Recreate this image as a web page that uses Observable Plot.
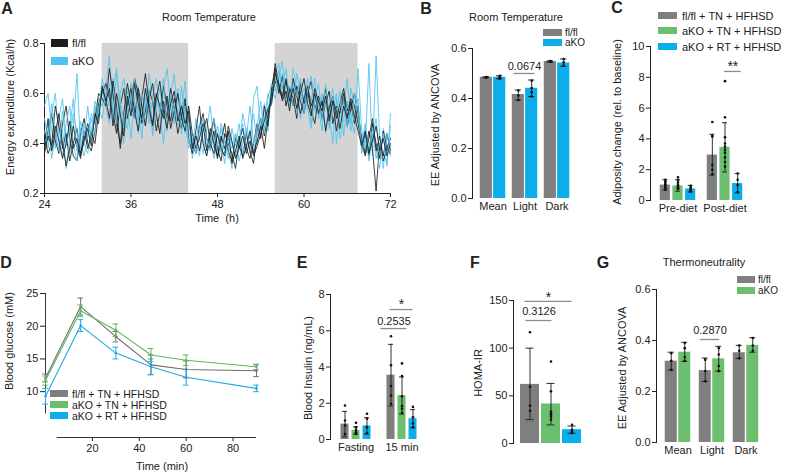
<!DOCTYPE html>
<html><head><meta charset="utf-8">
<script src="https://cdn.jsdelivr.net/npm/d3@7"></script>
<script src="https://cdn.jsdelivr.net/npm/@observablehq/plot@0.6"></script>
<style>
body{margin:0;background:#fff;}
#fig{position:relative;width:789px;height:475px;overflow:hidden;background:#fff;font-family:"Liberation Sans",Arial,sans-serif;color:#222;}
.abs{position:absolute;white-space:pre;line-height:1;}
.sw{position:absolute;}
</style></head><body><div id="fig"></div>
<script>
// ---------- DATA ----------
// Panel A: energy expenditure traces (Kcal/h), sampled every 0.5 h from 24 h to 72 h
const aDark = [{start: 32, end: 44}, {start: 56, end: 67.5}];
const aFl1 = [0.38,0.45,0.52,0.41,0.36,0.48,0.55,0.42,0.35,0.33,0.44,0.50,0.40,0.37, 0.45,0.56,0.60, 0.64,0.58,0.52,0.44,0.55,0.62,0.50,0.58,0.66,0.60,0.48,0.53,0.61,0.57,0.45,0.52,0.63,0.55,0.49,0.58,0.52,0.46,0.56,0.50, 0.40,0.36,0.47,0.52,0.42,0.38,0.45,0.34,0.41,0.48,0.37,0.33,0.42,0.39,0.35,0.44,0.37,0.32,0.45,0.50,0.43,0.52, 0.58,0.65, 0.62,0.58,0.66,0.60,0.55,0.63,0.57,0.52,0.60,0.65,0.54,0.58,0.50,0.56,0.61,0.48,0.55,0.52,0.58,0.47,0.54,0.60,0.52, 0.42,0.36,0.45,0.38,0.21,0.40,0.35,0.44,0.37];
const aFl2 = [0.42,0.36,0.40,0.55,0.47,0.38,0.44,0.33,0.40,0.46,0.36,0.42,0.48,0.43, 0.50,0.60,0.58, 0.55,0.70,0.60,0.48,0.40,0.52,0.64,0.56,0.50,0.62,0.55,0.47,0.58,0.64,0.52,0.44,0.57,0.50,0.62,0.54,0.44,0.51,0.58,0.42, 0.36,0.45,0.55,0.40,0.35,0.43,0.50,0.38,0.33,0.44,0.40,0.36,0.30,0.41,0.46,0.38,0.34,0.40,0.48,0.42,0.55,0.47, 0.62,0.70, 0.60,0.67,0.55,0.62,0.58,0.50,0.64,0.56,0.61,0.53,0.48,0.59,0.55,0.62,0.50,0.57,0.45,0.53,0.60,0.51,0.56,0.48,0.55, 0.38,0.44,0.35,0.48,0.40,0.34,0.45,0.38,0.42];
const aFl3 = [0.40,0.50,0.37,0.44,0.52,0.40,0.31,0.38,0.47,0.39,0.34,0.45,0.38,0.44, 0.40,0.52,0.62, 0.58,0.50,0.65,0.55,0.38,0.48,0.56,0.62,0.53,0.45,0.58,0.68,0.56,0.48,0.60,0.55,0.50,0.59,0.46,0.53,0.60,0.50,0.45,0.55, 0.44,0.38,0.42,0.48,0.37,0.46,0.40,0.35,0.43,0.38,0.45,0.32,0.37,0.43,0.34,0.39,0.45,0.36,0.41,0.47,0.38,0.50, 0.60,0.72, 0.64,0.57,0.61,0.53,0.66,0.59,0.52,0.58,0.63,0.55,0.60,0.52,0.57,0.45,0.54,0.59,0.50,0.56,0.62,0.53,0.58,0.55,0.48, 0.40,0.35,0.42,0.50,0.37,0.43,0.33,0.38,0.36];
const aFl4 = [0.36,0.43,0.39,0.47,0.41,0.34,0.40,0.49,0.38,0.42,0.35,0.41,0.46,0.39, 0.52,0.48,0.63, 0.57,0.62,0.47,0.60,0.52,0.43,0.59,0.51,0.64,0.56,0.50,0.62,0.54,0.47,0.58,0.65,0.53,0.46,0.56,0.61,0.49,0.55,0.48,0.53, 0.38,0.43,0.37,0.45,0.50,0.40,0.36,0.44,0.38,0.35,0.47,0.41,0.34,0.38,0.43,0.36,0.41,0.35,0.39,0.44,0.49,0.54, 0.56,0.68, 0.63,0.59,0.65,0.57,0.62,0.54,0.60,0.66,0.56,0.51,0.62,0.57,0.53,0.59,0.49,0.57,0.53,0.46,0.55,0.50,0.57,0.51,0.45, 0.39,0.45,0.36,0.41,0.47,0.37,0.42,0.35,0.40];
const aKo1 = [0.55,0.60,0.45,0.38,0.50,0.58,0.42,0.36,0.47,0.68,0.40,0.35,0.44,0.52, 0.48,0.58,0.55, 0.62,0.75,0.52,0.45,0.60,0.66,0.55,0.42,0.58,0.63,0.52,0.47,0.68,0.58,0.50,0.45,0.62,0.70,0.55,0.48,0.60,0.52,0.65,0.45, 0.38,0.50,0.42,0.36,0.46,0.55,0.40,0.34,0.48,0.42,0.37,0.30,0.44,0.38,0.52,0.45,0.36,0.58,0.63,0.44,0.50,0.60, 0.55,0.68, 0.72,0.60,0.65,0.55,0.70,0.62,0.50,0.58,0.66,0.48,0.60,0.55,0.45,0.62,0.52,0.40,0.58,0.48,0.55,0.66,0.50,0.44,0.70, 0.45,0.38,0.72,0.35,0.75,0.42,0.36,0.32,0.52];
const aKo2 = [0.45,0.38,0.52,0.60,0.42,0.35,0.48,0.55,0.40,0.33,0.46,0.40,0.36,0.45, 0.55,0.50,0.62, 0.55,0.48,0.62,0.70,0.50,0.40,0.55,0.64,0.57,0.44,0.52,0.62,0.48,0.58,0.66,0.52,0.40,0.55,0.60,0.68,0.50,0.56,0.44,0.52, 0.34,0.42,0.48,0.40,0.35,0.44,0.38,0.47,0.40,0.32,0.45,0.40,0.35,0.42,0.48,0.38,0.44,0.52,0.40,0.48,0.56,0.45, 0.62,0.58, 0.66,0.73,0.58,0.63,0.55,0.68,0.60,0.54,0.62,0.57,0.66,0.50,0.60,0.44,0.55,0.62,0.40,0.52,0.58,0.46,0.62,0.55,0.50, 0.40,0.48,0.36,0.44,0.38,0.30,0.46,0.40,0.35];
const aKo3 = [0.40,0.48,0.34,0.44,0.38,0.46,0.30,0.42,0.52,0.45,0.38,0.48,0.42,0.50, 0.44,0.54,0.50, 0.60,0.55,0.66,0.48,0.56,0.50,0.46,0.60,0.50,0.55,0.42,0.58,0.52,0.45,0.55,0.62,0.52,0.48,0.58,0.50,0.62,0.44,0.55,0.40, 0.42,0.36,0.45,0.50,0.38,0.42,0.34,0.40,0.46,0.36,0.42,0.38,0.44,0.33,0.40,0.46,0.42,0.37,0.44,0.50,0.46,0.54, 0.60,0.66, 0.62,0.68,0.60,0.56,0.64,0.52,0.58,0.62,0.54,0.46,0.58,0.64,0.52,0.56,0.48,0.54,0.60,0.42,0.50,0.56,0.45,0.52,0.58, 0.36,0.42,0.38,0.46,0.34,0.40,0.30,0.44,0.38];
const aKo4 = [0.50,0.41,0.56,0.44,0.37,0.53,0.39,0.46,0.58,0.37,0.49,0.43,0.55,0.41, 0.57,0.52,0.66, 0.58,0.64,0.50,0.68,0.57,0.46,0.61,0.53,0.66,0.49,0.60,0.55,0.62,0.43,0.57,0.52,0.66,0.45,0.60,0.54,0.47,0.63,0.50,0.38, 0.45,0.40,0.35,0.47,0.42,0.37,0.50,0.43,0.36,0.41,0.34,0.46,0.39,0.48,0.36,0.42,0.55,0.40,0.47,0.57,0.44,0.58, 0.64,0.61, 0.69,0.62,0.70,0.57,0.64,0.59,0.66,0.52,0.61,0.67,0.53,0.58,0.49,0.64,0.46,0.59,0.52,0.61,0.43,0.57,0.48,0.60,0.53, 0.38,0.46,0.33,0.42,0.50,0.37,0.44,0.31,0.47];

// Panel B: EE adjusted by ANCOVA, room temperature
const bGroups = ["Mean", "Light", "Dark"];
const bFlMean = [0.485, 0.416, 0.548], bFlLo = [0.483, 0.394, 0.545], bFlHi = [0.487, 0.434, 0.551];
const bFlDots = [[0.485, 0.486, 0.484], [0.432, 0.412, 0.394], [0.550, 0.547, 0.549]];
const bKoMean = [0.485, 0.441, 0.542], bKoLo = [0.479, 0.408, 0.529], bKoHi = [0.491, 0.474, 0.558];
const bKoDots = [[0.491, 0.485, 0.479], [0.471, 0.442, 0.425, 0.408], [0.558, 0.545, 0.532]];

// Panel C: adiposity change
const cGroups = ["Pre-diet", "Post-diet"];
const cFlMean = [1.0, 2.95], cFlLo = [0.68, 1.65], cFlHi = [1.35, 4.3];
const cFlDots = [[1.35, 1.25, 1.15, 1.05, 0.95, 0.9, 0.8, 0.7], [5.1, 4.2, 4.15, 2.3, 2.0, 1.7]];
const cTnMean = [0.95, 3.45], cTnLo = [0.6, 1.85], cTnHi = [1.35, 5.05];
const cTnDots = [[1.5, 1.3, 1.15, 1.0, 0.95, 0.85, 0.8, 0.75], [7.75, 5.4, 4.1, 3.7, 3.5, 3.3, 3.1, 2.8, 2.5, 2.2]];
const cRtMean = [0.75, 1.1], cRtLo = [0.55, 0.5], cRtHi = [0.98, 1.75];
const cRtDots = [[0.95, 0.85, 0.75, 0.65, 0.6], [1.75, 1.35, 1.0, 0.55]];

// Panel D: glucose tolerance (mM)
const dTimes = [0, 15, 30, 45, 60, 90];
const dFlMean = [12.1, 23.0, 18.4, 14.1, 13.4, 13.2], dFlSd = [0.6, 1.3, 0.8, 1.5, 1.3, 0.9];
const dTnMean = [11.7, 22.35, 19.4, 15.6, 14.8, 13.8], dTnSd = [0.7, 0.9, 0.95, 1.0, 0.8, 0.4];
const dRtMean = [9.3, 20.1, 15.9, 13.8, 12.2, 10.5], dRtSd = [1.2, 0.9, 0.9, 1.2, 1.2, 0.5];

// Panel E: blood insulin (ng/mL)
const eGroups = ["Fasting", "15 min"];
const eFlMean = [0.85, 3.55], eFlLo = [0.15, 1.85], eFlHi = [1.55, 5.25];
const eFlDots = [[1.88, 1.05, 0.77, 0.3], [5.7, 4.1, 2.95, 2.43, 1.97]];
const eTnMean = [0.5, 2.42], eTnLo = [0.3, 1.4], eTnHi = [0.7, 3.45];
const eTnDots = [[0.92, 0.68, 0.53, 0.4, 0.3], [4.2, 3.5, 2.38, 1.85, 1.7, 1.47]];
const eRtMean = [0.75, 1.15], eRtLo = [0.3, 0.65], eRtHi = [1.2, 1.65];
const eRtDots = [[1.42, 1.15, 0.68, 0.35], [1.8, 1.23, 0.9, 0.68]];

// Panel F: HOMA-IR
const fGroups = ["HOMA-IR"];
const fFlMean = [62], fFlLo = [25], fFlHi = [100], fFlDots = [[116.7, 59.6, 39.6, 34.3]];
const fTnMean = [41.5], fTnLo = [19.5], fTnHi = [63], fTnDots = [[86, 54.7, 33.6, 31.5, 30.1, 28, 25]];
const fRtMean = [14.5], fRtLo = [10.8], fRtHi = [18.3], fRtDots = [[19.6, 14.4, 12.6, 10.9]];

// Panel G: EE adjusted by ANCOVA, thermoneutrality
const gGroups = ["Mean", "Light", "Dark"];
const gFlMean = [0.319, 0.282, 0.352], gFlLo = [0.284, 0.239, 0.33], gFlHi = [0.354, 0.331, 0.381];
const gFlDots = [[0.35, 0.32, 0.285], [0.325, 0.28, 0.24], [0.38, 0.36, 0.33]];
const gKoMean = [0.354, 0.328, 0.381], gKoLo = [0.318, 0.28, 0.354], gKoHi = [0.393, 0.377, 0.411];
const gKoDots = [[0.39, 0.37, 0.335, 0.32], [0.37, 0.345, 0.3, 0.28], [0.41, 0.38, 0.36]];

// ---------- STYLE ----------
const GREY = "#7f7f7f", BLUE = "#0aaeea", GREEN = "#6cbf6e", BLK = "#1c1c1c", LBLUE = "#4cc3f0";
const FONT = '"Liberation Sans", Arial, sans-serif';
const style = {fontFamily: FONT, fontSize: "11px", color: "#222", background: "transparent", overflow: "visible"};
const fig = document.getElementById("fig");

function place(svg, left, top) {
  svg.style.position = "absolute";
  svg.style.left = left + "px";
  svg.style.top = top + "px";
  svg.style.maxWidth = "none";
  fig.appendChild(svg);
}
function label(text, x, y, o = {}) {
  const d = document.createElement("div");
  d.className = "abs";
  d.textContent = text;
  d.style.left = x + "px";
  d.style.top = y + "px";
  d.style.fontSize = (o.size || 11) + "px";
  if (o.bold) d.style.fontWeight = "bold";
  d.style.transform = o.rot ? "translate(-50%,-50%) rotate(-90deg)" : o.start ? "translate(0,-50%)" : "translate(-50%,-50%)";
  fig.appendChild(d);
}
function swatch(x, y, w, h, color) {
  const d = document.createElement("div");
  d.className = "sw";
  Object.assign(d.style, {left: x + "px", top: y + "px", width: w + "px", height: h + "px", background: color});
  fig.appendChild(d);
}

// ---------- PANEL A ----------
const aTimes = d3.range(24, 72.001, 0.5);
const toRows = arr => arr.map((v, i) => ({t: aTimes[i], v})).filter(d => d.t !== undefined);
const aOrder = [[aKo1, LBLUE], [aFl1, BLK], [aKo2, LBLUE], [aFl2, BLK], [aKo3, LBLUE], [aFl3, BLK], [aKo4, LBLUE], [aFl4, BLK]];
const plotA = Plot.plot({
  width: 400, height: 230, marginLeft: 44, marginRight: 10, marginTop: 43, marginBottom: 37, style,
  x: {domain: [24, 72], ticks: [24, 36, 48, 60, 72], tickSize: 4, tickPadding: 3, line: true, label: null},
  y: {domain: [0.2, 0.8], ticks: [0.2, 0.4, 0.6, 0.8], tickSize: 4, tickPadding: 2, tickFormat: d3.format(".1f"), line: true, label: null},
  marks: [
    Plot.rect(aDark, {x1: "start", x2: "end", y1: 0.2, y2: 0.8, fill: "#d4d4d4"}),
    ...aOrder.map(([arr, c]) => Plot.line(toRows(arr), {x: "t", y: "v", stroke: c, strokeWidth: 0.85}))
  ]
});
place(plotA, 0, 0);

// ---------- grouped bar helper ----------
function barPanel(o) {
  const band = d3.scaleBand().domain(o.groups).range(o.range).paddingInner(o.pad).paddingOuter(0);
  const bw = band.bandwidth(), n = o.series.length, sub = bw / n;
  const cen = k => (k + 0.5) * sub;
  const rowsOf = s => o.groups.map((g, i) => ({group: g, mean: s.mean[i], lo: s.lo[i], hi: s.hi[i]}));
  const marks = [];
  o.series.forEach((s, k) => {
    marks.push(Plot.barY(rowsOf(s), {x: "group", y: "mean", fill: s.color,
      insetLeft: k * sub + o.gap / 2, insetRight: (n - 1 - k) * sub + o.gap / 2}));
  });
  o.series.forEach((s, k) => {
    const rk = rowsOf(s), c = cen(k);
    marks.push(Plot.ruleX(rk, {x: "group", y1: "lo", y2: "hi", dx: c - bw / 2, stroke: "#1a1a1a", strokeWidth: 0.9}));
    for (const key of ["lo", "hi"]) {
      marks.push(Plot.tickY(rk, {x: "group", y: key, insetLeft: c - o.cap, insetRight: bw - c - o.cap, stroke: "#1a1a1a", strokeWidth: 0.9}));
    }
    const pts = s.dots.flatMap((arr, i) => arr.map(v => ({group: o.groups[i], v})));
    marks.push(Plot.dot(pts, {x: "group", y: "v", dx: c - bw / 2, r: 1.3, fill: "#111"}));
  });
  (o.sig || []).forEach(sg => {
    const x1 = cen(sg.from) - sg.extL, x2 = cen(sg.to) + sg.extR;
    marks.push(Plot.tickY([sg], {x: "group", y: "y", insetLeft: x1, insetRight: bw - x2, stroke: "#8c8c8c", strokeWidth: 1.3}));
    marks.push(Plot.text([sg], {x: "group", y: "ly", text: "label", dx: (x1 + x2) / 2 - bw / 2, fontSize: sg.size || 11, fill: "#222"}));
  });
  return Plot.plot({
    width: o.width, height: o.height, marginLeft: o.ml, marginRight: o.mr, marginTop: o.mt, marginBottom: o.mb, style,
    x: Object.assign({domain: o.groups, range: o.range, paddingInner: o.pad, paddingOuter: 0, tickSize: 0, tickPadding: 4, label: null}, o.x || {}),
    y: {domain: o.yDomain, ticks: o.yTicks, tickSize: 4, tickPadding: 2, tickFormat: o.yFormat, line: true, label: null},
    marks
  });
}

// ---------- PANEL B ----------
place(barPanel({
  width: 200, height: 230, ml: 82, mr: 20, mt: 48, mb: 32,
  groups: bGroups, range: [89, 180], pad: 0.17, gap: 1.5, cap: 3,
  series: [
    {color: GREY, mean: bFlMean, lo: bFlLo, hi: bFlHi, dots: bFlDots},
    {color: BLUE, mean: bKoMean, lo: bKoLo, hi: bKoHi, dots: bKoDots}
  ],
  yDomain: [0, 0.6], yTicks: [0, 0.2, 0.4, 0.6], yFormat: d3.format(".1f"),
  sig: [{group: "Light", from: 0, to: 1, extL: 4, extR: 3, y: 0.5, ly: 0.529, label: "0.0674"}]
}), 390, 0);

// ---------- PANEL C ----------
place(barPanel({
  width: 199, height: 230, ml: 60, mr: 45, mt: 46, mb: 30,
  groups: cGroups, range: [68, 154], pad: 0.208, gap: 1.5, cap: 3,
  series: [
    {color: GREY, mean: cFlMean, lo: cFlLo, hi: cFlHi, dots: cFlDots},
    {color: GREEN, mean: cTnMean, lo: cTnLo, hi: cTnHi, dots: cTnDots},
    {color: BLUE, mean: cRtMean, lo: cRtLo, hi: cRtHi, dots: cRtDots}
  ],
  yDomain: [0, 10], yTicks: [0, 2, 4, 6, 8, 10], yFormat: d3.format("d"),
  sig: [{group: "Post-diet", from: 1, to: 2, extL: 1, extR: 4, y: 8.38, ly: 8.72, label: "**", size: 14}]
}), 590, 0);

// ---------- PANEL D ----------
const dSeries = [
  {mean: dFlMean, sd: dFlSd, color: "#6e6e6e"},
  {mean: dTnMean, sd: dTnSd, color: "#5cb85e"},
  {mean: dRtMean, sd: dRtSd, color: "#1ea8e6"}
];
const dMarks = [
  Plot.ruleX([0], {y1: 6.6, y2: 25, stroke: "#333"}),
  Plot.ruleY([3], {x1: 5, x2: 90, stroke: "#333"})
];
dSeries.forEach(s => {
  const rows = dTimes.map((t, i) => ({t, m: s.mean[i], lo: s.mean[i] - s.sd[i], hi: s.mean[i] + s.sd[i]}));
  dMarks.push(Plot.line(rows, {x: "t", y: "m", stroke: s.color, strokeWidth: 1.1}));
  dMarks.push(Plot.ruleX(rows, {x: "t", y1: "lo", y2: "hi", stroke: s.color, strokeWidth: 1}));
  dMarks.push(Plot.ruleY(rows, {y: "lo", x1: d => d.t - 1.2, x2: d => d.t + 1.2, stroke: s.color, strokeWidth: 1}));
  dMarks.push(Plot.ruleY(rows, {y: "hi", x1: d => d.t - 1.2, x2: d => d.t + 1.2, stroke: s.color, strokeWidth: 1}));
  dMarks.push(Plot.dot(rows, {x: "t", y: "m", r: 1.3, fill: s.color}));
});
place(Plot.plot({
  width: 260, height: 235, marginLeft: 45, marginRight: 4, marginTop: 53, marginBottom: 38, style,
  x: {domain: [0, 90], ticks: [20, 40, 60, 80], tickSize: 4, tickPadding: 3, label: null},
  y: {domain: [3, 25], ticks: [10, 15, 20, 25], tickSize: 5, tickPadding: 2, label: null},
  marks: dMarks
}), 0, 240);

// ---------- PANEL E ----------
place(barPanel({
  width: 225, height: 235, ml: 80, mr: 57, mt: 54, mb: 36,
  groups: eGroups, range: [89, 168], pad: 0.283, gap: 3, cap: 2.5,
  series: [
    {color: GREY, mean: eFlMean, lo: eFlLo, hi: eFlHi, dots: eFlDots},
    {color: GREEN, mean: eTnMean, lo: eTnLo, hi: eTnHi, dots: eTnDots},
    {color: BLUE, mean: eRtMean, lo: eRtLo, hi: eRtHi, dots: eRtDots}
  ],
  yDomain: [0, 8], yTicks: [0, 2, 4, 6, 8], yFormat: d3.format("d"),
  sig: [
    {group: "15 min", from: 0, to: 2, extL: 1, extR: 0, y: 7.17, ly: 7.45, label: "*", size: 14},
    {group: "15 min", from: 0, to: 1, extL: 10, extR: 5, y: 6.12, ly: 6.51, label: "0.2535"}
  ]
}), 250, 240);

// ---------- PANEL F ----------
place(barPanel({
  width: 115, height: 235, ml: 38, mr: 8, mt: 60, mb: 32,
  groups: fGroups, range: [44, 107], pad: 0, gap: 2, cap: 4,
  series: [
    {color: GREY, mean: fFlMean, lo: fFlLo, hi: fFlHi, dots: fFlDots},
    {color: GREEN, mean: fTnMean, lo: fTnLo, hi: fTnHi, dots: fTnDots},
    {color: BLUE, mean: fRtMean, lo: fRtLo, hi: fRtHi, dots: fRtDots}
  ],
  x: {axis: null},
  yDomain: [0, 150], yTicks: [0, 50, 100, 150], yFormat: d3.format("d"),
  sig: [
    {group: "HOMA-IR", from: 0, to: 2, extL: 5, extR: 0, y: 149, ly: 153.5, label: "*", size: 14},
    {group: "HOMA-IR", from: 0, to: 1, extL: 4, extR: 1, y: 129, ly: 138, label: "0.3126"}
  ]
}), 475, 240);

// ---------- PANEL G ----------
place(barPanel({
  width: 199, height: 235, ml: 66, mr: 30, mt: 49, mb: 33,
  groups: gGroups, range: [74, 169], pad: 0.206, gap: 1.5, cap: 3,
  series: [
    {color: GREY, mean: gFlMean, lo: gFlLo, hi: gFlHi, dots: gFlDots},
    {color: GREEN, mean: gKoMean, lo: gKoLo, hi: gKoHi, dots: gKoDots}
  ],
  yDomain: [0, 0.6], yTicks: [0, 0.2, 0.4, 0.6], yFormat: d3.format(".1f"),
  sig: [{group: "Light", from: 0, to: 1, extL: 5, extR: 1, y: 0.404, ly: 0.439, label: "0.2870"}]
}), 590, 240);

// ---------- TEXT: letters, titles, axis titles, legends ----------
label("A", 7, 9, {bold: true, size: 16});
label("B", 426, 9, {bold: true, size: 16});
label("C", 617, 8, {bold: true, size: 16});
label("D", 6, 263, {bold: true, size: 16});
label("E", 302, 263, {bold: true, size: 16});
label("F", 475, 263, {bold: true, size: 16});
label("G", 603, 263, {bold: true, size: 16});

label("Room Temperature", 209, 17);
label("Room Temperature", 516, 17);
label("Thermoneutrality", 704, 262);

label("Energy expenditure (Kcal/h)", 10, 107, {rot: true});
label("Time  (h)", 217, 218);
label("EE Adjusted by ANCOVA", 435, 125, {rot: true});
label("Adiposity change (rel. to baseline)", 617, 122, {rot: true});
label("Blood glucose (mM)", 9, 341, {rot: true});
label("Time (min)", 162, 466);
label("Blood Insulin (ng/mL)", 308, 368, {rot: true});
label("HOMA-IR", 478, 373, {rot: true});
label("EE Adjusted by ANCOVA", 622, 368, {rot: true});

// legends
swatch(51, 39, 17, 8, BLK); label("fl/fl", 72, 43, {start: true});
swatch(51, 57, 17, 8, LBLUE); label("aKO", 72, 61, {start: true});

swatch(543, 29, 19, 7, GREY); label("fl/fl", 565, 32.5, {start: true, size: 10});
swatch(543, 39, 19, 7, BLUE); label("aKO", 565, 42.5, {start: true, size: 10});

swatch(658, 12, 19, 7, GREY); label("fl/fl + TN + HFHSD", 682, 15.5, {start: true});
swatch(658, 27, 19, 7, GREEN); label("aKO + TN + HFHSD", 682, 30.5, {start: true});
swatch(658, 43, 19, 7, BLUE); label("aKO + RT + HFHSD", 682, 46.5, {start: true});

swatch(50, 390, 18, 7, GREY); label("fl/fl + TN + HFHSD", 72, 393.5, {start: true, size: 10.5});
swatch(50, 401, 18, 7, GREEN); label("aKO + TN + HFHSD", 72, 404.5, {start: true, size: 10.5});
swatch(50, 412, 18, 7, BLUE); label("aKO + RT + HFHSD", 72, 415.5, {start: true, size: 10.5});

swatch(737, 276, 18, 7, GREY); label("fl/fl", 758, 279.5, {start: true, size: 10});
swatch(737, 287, 18, 7, GREEN); label("aKO", 758, 290.5, {start: true, size: 10});
</script>
</body></html>
